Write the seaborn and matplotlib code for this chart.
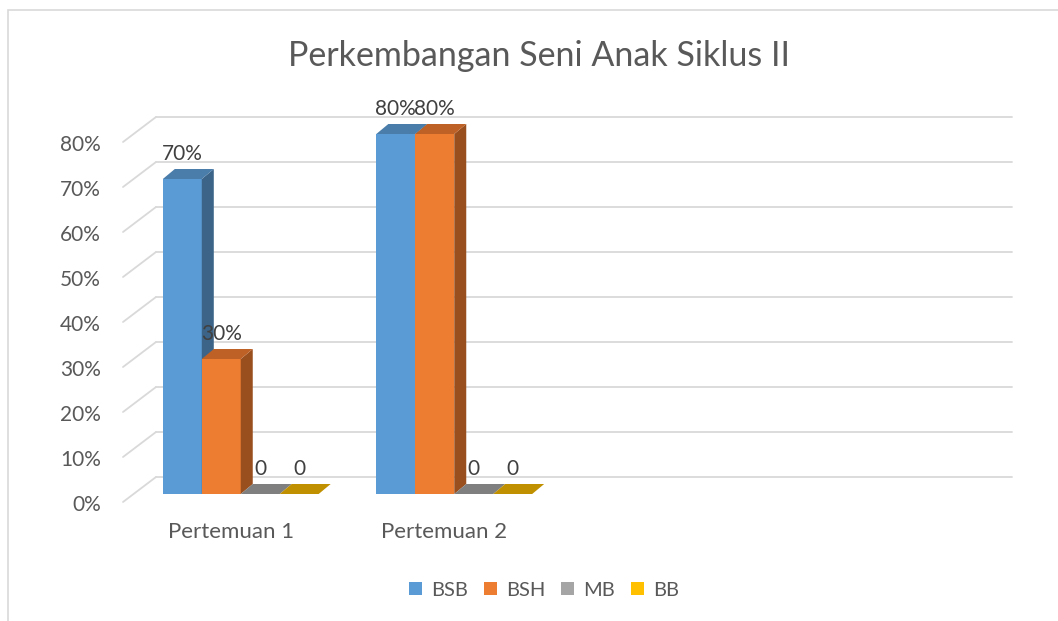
import numpy as np
import pandas as pd
import matplotlib
matplotlib.use("Agg")
import matplotlib.pyplot as plt
import matplotlib.transforms as mtransforms
from matplotlib.patches import Polygon, Patch, Rectangle
from matplotlib.lines import Line2D
import seaborn as sns

# ---- data ----
categories = ["Pertemuan 1", "Pertemuan 2"]
series = ["BSB", "BSH", "MB", "BB"]
bsb = [0.70, 0.80]
bsh = [0.30, 0.80]
mb = [0.0, 0.0]
bb = [0.0, 0.0]
label_texts = {"BSB": ["70%", "80%"], "BSH": ["30%", "80%"], "MB": ["0", "0"], "BB": ["0", "0"]}
yticks = [0, 0.1, 0.2, 0.3, 0.4, 0.5, 0.6, 0.7, 0.8]
ytick_labels = ["0%", "10%", "20%", "30%", "40%", "50%", "60%", "70%", "80%"]
title = "Perkembangan Seni Anak Siklus II"

colors = {"BSB": "#5B9BD5", "BSH": "#ED7D31", "MB": "#A5A5A5", "BB": "#FFC000"}
side_colors = {"BSB": "#3B6488", "BSH": "#9A4F1E", "MB": "#7F7F7F", "BB": "#C09000"}
top_colors = {"BSB": "#4A7DAA", "BSH": "#BE6126", "MB": "#7F7F7F", "BB": "#C09000"}

df = pd.DataFrame({
    "Pertemuan": categories * 4,
    "Kategori": sum([[s] * 2 for s in series], []),
    "Nilai": bsb + bsh + mb + bb,
})

sns.set_theme(style="white")
FONT = "Lato"
plt.rcParams["font.family"] = [FONT, "DejaVu Sans"]
TXT = "#595959"
GRID = "#D9D9D9"

W, H = 1058, 621
DPI = 100
fig = plt.figure(figsize=(W / DPI, H / DPI), dpi=DPI)
fig.patch.set_facecolor("white")

def fx(px):
    return px / W

def fy(py):
    return 1 - py / H

# axes = front plane of bars
left_px, right_px, bot_px, top_px = 134, 988, 494, 134
ax = fig.add_axes([fx(left_px), fy(bot_px), (right_px - left_px) / W, (bot_px - top_px) / H])
ax.set_facecolor("none")

sns.barplot(data=df, x="Pertemuan", y="Nilai", hue="Kategori", hue_order=series,
            palette=colors, width=0.73, saturation=1, linewidth=0, ax=ax,
            legend=False, errorbar=None, zorder=5)

ax.set_xlim(-0.5, 3.5)
ax.set_ylim(0, 0.8)
ax.autoscale(False)
for sp in ax.spines.values():
    sp.set_visible(False)
ax.set_xlabel("")
ax.set_ylabel("")
ax.tick_params(length=0)

# y ticks
ax.set_yticks(yticks)
ax.set_yticklabels(ytick_labels, fontsize=15, color=TXT)
ax.tick_params(axis="y", pad=24)
for lab in ax.get_yticklabels():
    lab.set_transform(lab.get_transform() + mtransforms.ScaledTranslation(0, -9 / DPI, fig.dpi_scale_trans))

# x ticks
ax.set_xticks([0, 1])
ax.set_xticklabels(categories, fontsize=16, color=TXT)
ax.tick_params(axis="x", pad=20)
for lab in ax.get_xticklabels():
    lab.set_transform(lab.get_transform() + mtransforms.ScaledTranslation(-10 / DPI, 0, fig.dpi_scale_trans))

# back wall gridlines + floor slants
for v in yticks:
    yd = ax.transData.transform((0, v))[1]
    ypx = H - yd  # pixel from top
    back = ypx - 17
    fig.add_artist(Line2D([fx(156), fx(1012)], [fy(back), fy(back)], color=GRID, lw=1.3, zorder=0))
    fig.add_artist(Line2D([fx(123), fx(156)], [fy(ypx + 8), fy(back)], color=GRID, lw=1.3, zorder=0))

# 3D faces for bars
dx, dy = 12, 10
ident = mtransforms.IdentityTransform()
for hi, s in enumerate(series):
    cont = ax.containers[hi]
    for ci, bar in enumerate(cont.patches):
        z = 5 + hi + ci * 10
        bar.set_zorder(z)
        x0, y0 = bar.get_x(), bar.get_y()
        x1, y1 = x0 + bar.get_width(), y0 + bar.get_height()
        (X0, Y0) = ax.transData.transform((x0, y0))
        (X1, Y1) = ax.transData.transform((x1, y1))
        side = Polygon([(X1, Y0), (X1, Y1), (X1 + dx, Y1 + dy), (X1 + dx, Y0 + dy)],
                       closed=True, transform=ident, facecolor=side_colors[s], edgecolor="none",
                       clip_on=False, zorder=z + 0.1)
        top = Polygon([(X0, Y1), (X1, Y1), (X1 + dx, Y1 + dy), (X0 + dx, Y1 + dy)],
                      closed=True, transform=ident, facecolor=top_colors[s], edgecolor="none",
                      clip_on=False, zorder=z + 0.2)
        ax.add_artist(side)
        ax.add_artist(top)
        ax.annotate(label_texts[s][ci], xy=(bar.get_x() + bar.get_width() / 2, y1),
                    xytext=(0, 25), textcoords="offset pixels", ha="center", va="center",
                    fontsize=15, color="#404040", zorder=100, annotation_clip=False)

# title
fig.text(fx(539), fy(56), title, ha="center", va="center", fontsize=24.5, color=TXT)

# legend
handles = [Patch(facecolor=colors[s], edgecolor="none") for s in series]
fig.legend(handles, series, loc="center", bbox_to_anchor=(fx(544), fy(590)), ncol=4,
           frameon=False, fontsize=14.5, handlelength=0.65, handleheight=0.65,
           handletextpad=0.45, columnspacing=0.8, labelcolor=TXT)

# chart border
fig.add_artist(Rectangle((fx(8), fy(H + 20)), fx(W + 40), fy(10) - fy(H + 20),
                         transform=fig.transFigure, fill=False, edgecolor=GRID, lw=1.2, zorder=0))

fig.savefig("out.png", dpi=DPI, facecolor="white")
